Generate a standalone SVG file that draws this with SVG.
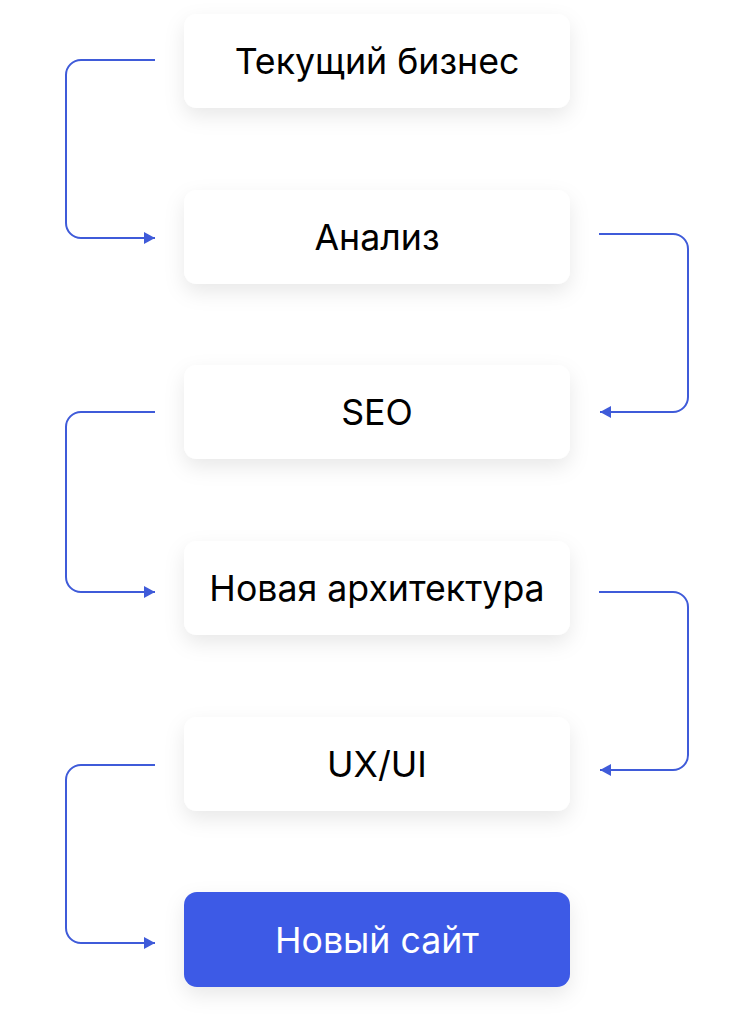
<svg xmlns="http://www.w3.org/2000/svg" width="750" height="1014" viewBox="0 0 750 1014">
<style>
.box{fill:#ffffff;filter:url(#sh)}
.blue{fill:#3d5ae6;filter:url(#sh)}
.lbl{font-family:Inter,"Noto Sans",sans-serif;font-size:35.7px;font-weight:400;fill:#000;text-anchor:middle}
.wl{fill:#ffffff}
.con{fill:none;stroke:#3f5bd9;stroke-width:2}
</style>
<defs>
<filter id="sh" x="-20%" y="-40%" width="140%" height="190%">
<feDropShadow dx="0" dy="8" stdDeviation="10" flood-color="#000" flood-opacity="0.09"/>
</filter>
<marker id="ah" markerWidth="13" markerHeight="13" refX="11" refY="6.5" orient="auto" markerUnits="userSpaceOnUse">
<path d="M0,0.5 L11,6.5 L0,12.5 Z" fill="#3f5bd9"/>
</marker>
</defs>
<rect width="750" height="1014" fill="#ffffff"/>
<g id="connectors">
<path class="con" d="M155,60 H81 A15,15 0 0 0 66,75 V223 A15,15 0 0 0 81,238 H155" marker-end="url(#ah)"/>
<path class="con" d="M599,234 H673 A15,15 0 0 1 688,249 V397 A15,15 0 0 1 673,412 H600" marker-end="url(#ah)"/>
<path class="con" d="M155,412 H81 A15,15 0 0 0 66,427 V577 A15,15 0 0 0 81,592 H155" marker-end="url(#ah)"/>
<path class="con" d="M599,592 H673 A15,15 0 0 1 688,607 V755 A15,15 0 0 1 673,770 H600" marker-end="url(#ah)"/>
<path class="con" d="M155,765 H81 A15,15 0 0 0 66,780 V928 A15,15 0 0 0 81,943 H155" marker-end="url(#ah)"/>
</g>
<g id="n1"><rect class="box" x="184" y="14" width="386" height="94" rx="13"/><text class="lbl" x="377" y="74">Текущий бизнес</text></g>
<g id="n2"><rect class="box" x="184" y="190" width="386" height="94" rx="13"/><text class="lbl" x="377" y="250">Анализ</text></g>
<g id="n3"><rect class="box" x="184" y="365" width="386" height="94" rx="13"/><text class="lbl" x="377" y="425">SEO</text></g>
<g id="n4"><rect class="box" x="184" y="541" width="386" height="94" rx="13"/><text class="lbl" x="377" y="601">Новая архитектура</text></g>
<g id="n5"><rect class="box" x="184" y="717" width="386" height="94" rx="13"/><text class="lbl" x="377" y="777">UX/UI</text></g>
<g id="n6"><rect class="blue" x="184" y="892" width="386" height="95" rx="13"/><text class="lbl wl" x="377" y="953">Новый сайт</text></g>
</svg>
